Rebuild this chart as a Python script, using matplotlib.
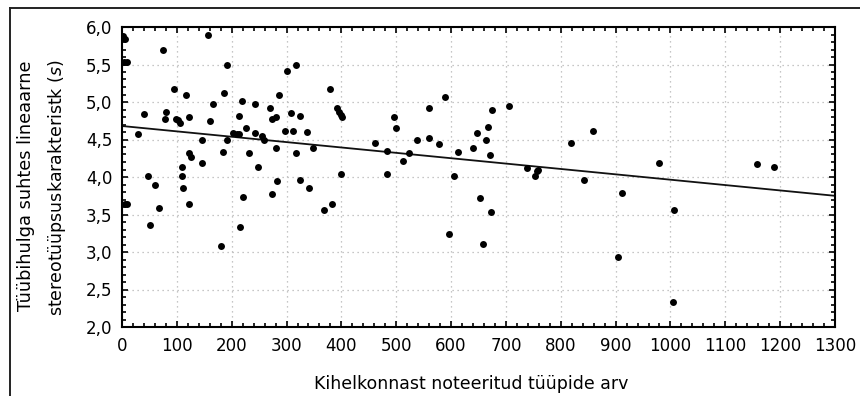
import matplotlib
matplotlib.use('Agg')
from matplotlib import pyplot as plt
from matplotlib.lines import Line2D
from matplotlib.ticker import MultipleLocator, FuncFormatter
import numpy as np


# number of recorded types per parish vs. linear stereotype characteristic
TYPE_COUNT = [
    2, 6, 3, 9, 5, 10, 30, 41, 47, 51, 60, 68, 74, 78, 81, 95, 98, 103, 106,
    109, 109, 111, 116, 123, 123, 126, 123, 145, 145, 157, 160, 166, 180, 185,
    186, 191, 192, 203, 210, 214, 214, 215, 219, 221, 226, 232, 242, 242, 248,
    256, 259, 270, 273, 273, 280, 281, 282, 287, 297, 300, 308, 311, 317, 317,
    324, 324, 338, 341, 349, 369, 379, 383, 392, 396, 399, 401, 399, 462, 483,
    483, 496, 499, 513, 524, 537, 560, 560, 578, 589, 596, 606, 613, 640, 648,
    653, 658, 664, 668, 671, 673, 675, 706, 739, 753, 756, 759, 819, 842, 859,
    904, 911, 980, 1004, 1007, 1158, 1189,
]
STEREO_S = [
    5.88, 5.84, 5.54, 5.54, 3.64, 3.64, 4.57, 4.84, 4.02, 3.36, 3.89, 3.59,
    5.70, 4.78, 4.87, 5.17, 4.78, 4.76, 4.72, 4.14, 4.02, 3.86, 5.09, 4.80,
    4.32, 4.27, 3.64, 4.49, 4.19, 5.89, 4.75, 4.97, 3.08, 4.34, 5.12, 5.50,
    4.49, 4.59, 4.57, 4.57, 4.82, 3.34, 5.02, 3.74, 4.66, 4.32, 4.97, 4.59,
    4.14, 4.55, 4.49, 4.92, 4.77, 3.77, 4.80, 4.39, 3.95, 5.09, 4.62, 5.42,
    4.85, 4.62, 5.50, 4.32, 4.82, 3.96, 4.60, 3.86, 4.39, 3.56, 5.17, 3.64,
    4.92, 4.87, 4.83, 4.80, 4.04, 4.46, 4.35, 4.04, 4.80, 4.66, 4.21, 4.32,
    4.49, 4.92, 4.52, 4.44, 5.07, 3.24, 4.02, 4.34, 4.39, 4.59, 3.72, 3.11,
    4.49, 4.67, 4.29, 3.53, 4.89, 4.95, 4.12, 4.02, 4.08, 4.09, 4.46, 3.96,
    4.61, 2.93, 3.79, 4.19, 2.33, 3.56, 4.17, 4.14,
]

# fitted linear trend
FIT_INTERCEPT = 4.68
FIT_SLOPE = -0.000716

X_LABEL = 'Kihelkonnast noteeritud tüüpide arv'
Y_LABEL_1 = 'Tüübihulga suhtes lineaarne'
Y_LABEL_2 = 'stereotüüpsuskarakteristk ($\\mathit{s}$)'

FONT = 'DejaVu Sans'


def comma_fmt(v, pos):
    return f'{v:.1f}'.replace('.', ',')


def main():
    plt.rcParams['font.family'] = FONT
    plt.rcParams['mathtext.fontset'] = 'dejavusans'

    fig = plt.figure(figsize=(8.6, 3.96), dpi=100)
    ax = fig.add_axes([122 / 860, 69 / 396, 713 / 860, 300 / 396])

    x = np.array(TYPE_COUNT, dtype=float)
    y = np.array(STEREO_S, dtype=float)

    xl = np.array([0, 1300])
    ax.plot(xl, FIT_INTERCEPT + FIT_SLOPE * xl, color='#111111', lw=1.3,
            zorder=2)

    ax.scatter(x, y, s=25, color='black', marker='o', linewidths=0, zorder=3)

    ax.set_xlim(0, 1300)
    ax.set_ylim(2.0, 6.0)
    ax.xaxis.set_major_locator(MultipleLocator(100))
    ax.xaxis.set_minor_locator(MultipleLocator(20))
    ax.yaxis.set_major_locator(MultipleLocator(0.5))
    ax.yaxis.set_minor_locator(MultipleLocator(0.1))
    ax.yaxis.set_major_formatter(FuncFormatter(comma_fmt))

    ax.tick_params(which='both', direction='in', top=True, right=True,
                   colors='black', width=1.2, labelsize=12)
    ax.tick_params(which='major', length=4, pad=7)
    ax.tick_params(which='minor', length=3)
    for sp in ax.spines.values():
        sp.set_linewidth(1.5)
        sp.set_color('black')

    ax.grid(True, which='major', color='#b4b4b4', lw=0.9,
            linestyle=(0, (1, 3)))
    ax.set_axisbelow(True)

    fig.text(471 / 860, 1 - 384 / 396, X_LABEL, ha='center', va='center',
             fontsize=12.5)
    fig.text(26 / 860, 1 - 186 / 396, Y_LABEL_1, ha='center', va='center',
             rotation=90, fontsize=12.8)
    fig.text(57 / 860, 1 - 188 / 396, Y_LABEL_2, ha='center', va='center',
             rotation=90, fontsize=12.5)

    # outer frame around the chart panel
    fr_x = 9.5 / 860
    fr_y = 1 - 7.5 / 396
    fig.add_artist(Line2D([fr_x, 1.0], [fr_y, fr_y], color='#222222', lw=1.4))
    fig.add_artist(Line2D([fr_x, fr_x], [0.0, fr_y], color='#222222', lw=1.4))

    fig.savefig('out.png', dpi=100)


if __name__ == '__main__':
    main()
